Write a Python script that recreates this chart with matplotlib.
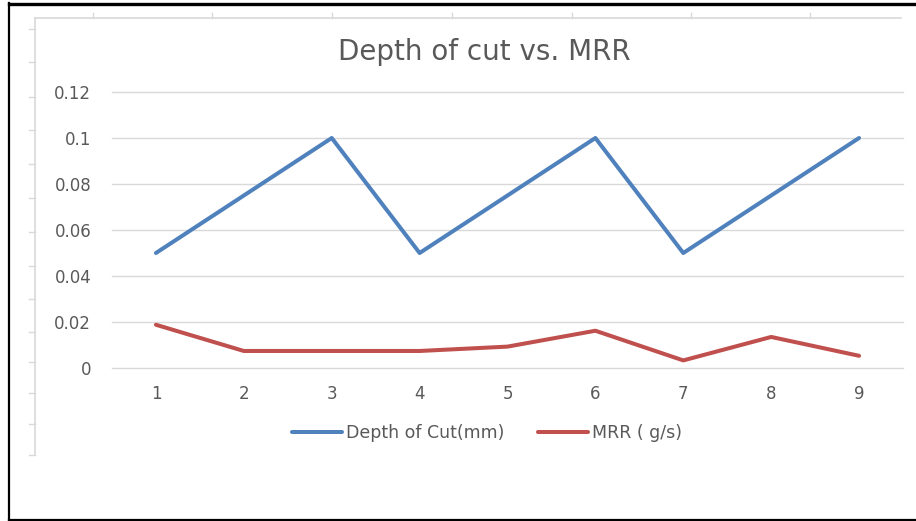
import numpy as np
import matplotlib
matplotlib.use("Agg")
import matplotlib.pyplot as plt
from matplotlib.lines import Line2D

# Data
runs = [1, 2, 3, 4, 5, 6, 7, 8, 9]
depth_of_cut = [0.05, 0.075, 0.1, 0.05, 0.075, 0.1, 0.05, 0.075, 0.1]
mrr = [0.0188, 0.0074, 0.0074, 0.0074, 0.0093, 0.0162, 0.0033, 0.0135, 0.0053]
yticks = [0, 0.02, 0.04, 0.06, 0.08, 0.1, 0.12]
ytick_labels = ["0", "0.02", "0.04", "0.06", "0.08", "0.1", "0.12"]

txt = "#595959"
grid = "#d9d9d9"
plt.rcParams['font.family'] = ['DejaVu Sans']

W, H = 916, 521
fig = plt.figure(figsize=(W / 100, H / 100), dpi=100)
ax = fig.add_axes([112 / W, 1 - 368 / H, 791 / W, 276 / H])

ax.plot(runs, depth_of_cut, color="#4f81bd", lw=2.9, solid_joinstyle="round",
        solid_capstyle="round", label="Depth of Cut(mm)", zorder=3)
ax.plot(runs, mrr, color="#c0504d", lw=2.9, solid_joinstyle="round",
        solid_capstyle="round", label="MRR ( g/s)", zorder=3)

ax.set_xlim(0.5, 9.5)
ax.set_ylim(0, 0.12)
ax.set_xticks(runs)
ax.set_yticks(yticks)
ax.set_yticklabels(ytick_labels)
ax.tick_params(length=0, labelsize=12, colors=txt)
ax.tick_params(axis="y", pad=15)
ax.tick_params(axis="x", pad=12)
ax.grid(axis="y", color=grid, lw=1.0)
for gl in ax.get_ygridlines():
    gl.set_clip_on(False)
ax.set_axisbelow(True)
for s in ax.spines.values():
    s.set_visible(False)

fig.text(484 / W, 1 - 52 / H, "Depth of cut vs. MRR", ha="center", va="center",
         fontsize=20, color=txt)

fig.legend(loc="center", bbox_to_anchor=(487 / W, 1 - 433 / H), ncol=2,
           frameon=False, fontsize=12.5, labelcolor=txt, handlelength=2.9,
           handletextpad=0.23, columnspacing=1.9)

# faint ruler-like chart-area edges
fig.add_artist(Line2D([35 / W, 901 / W], [1 - 18 / H, 1 - 18 / H], color=grid, lw=1.2))
fig.add_artist(Line2D([35 / W, 35 / W], [1 - 18 / H, 1 - 455 / H], color=grid, lw=1.2))
for xt in [93, 212, 332, 452, 572, 691, 810]:
    fig.add_artist(Line2D([xt / W, xt / W], [1 - 13 / H, 1 - 18 / H], color=grid, lw=1))
for yt in [29, 62, 97, 130, 164, 198, 232, 266, 299, 332, 362, 393, 424, 455]:
    fig.add_artist(Line2D([29 / W, 35 / W], [1 - yt / H, 1 - yt / H], color=grid, lw=1))

# black frame (left, top, bottom)
fig.add_artist(Line2D([9 / W, 9 / W], [1 - 3 / H, 1 - 520 / H], color="black", lw=1.6))
fig.add_artist(Line2D([9 / W, 1.0], [1 - 3.5 / H, 1 - 3.5 / H], color="black", lw=2.4))
fig.add_artist(Line2D([9 / W, 1.0], [1 - 519.5 / H, 1 - 519.5 / H], color="black", lw=1.6))

fig.savefig("out.png", dpi=100, facecolor="white")
